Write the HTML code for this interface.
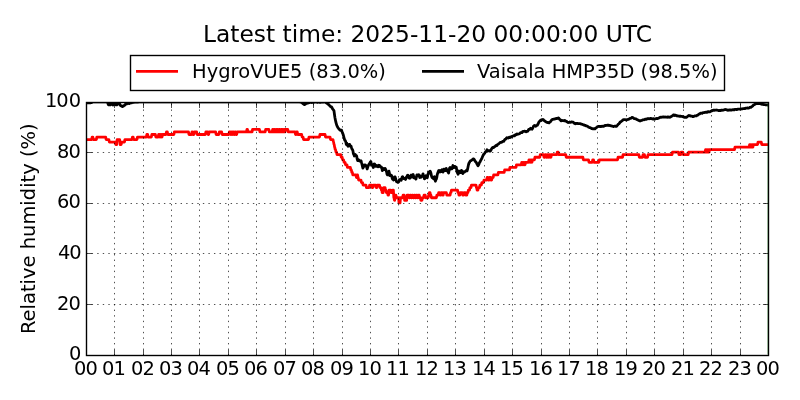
<!DOCTYPE html>
<html>
<head>
<meta charset="utf-8">
<title>Relative humidity</title>
<style>
html,body{margin:0;padding:0;background:#fff;overflow:hidden}
svg{display:block}
text{font-family:"DejaVu Sans","Liberation Sans",sans-serif;fill:#000}
</style>
</head>
<body>
<svg width="800" height="400" viewBox="0 0 800 400">
<rect width="800" height="400" fill="#fff"/>
<clipPath id="c"><rect x="86.00" y="102.00" width="682.00" height="252.60"/></clipPath>
<g clip-path="url(#c)" fill="none" stroke-width="2.78" stroke-linejoin="round" stroke-linecap="butt">
<path d="M85.70,139.55 L91.67,139.55 L92.14,137.02 L92.86,137.02 L93.33,139.55 L96.36,139.55 L96.83,137.02 L105.67,137.02 L106.14,139.55 L108.86,139.55 L109.33,142.08 L115.27,142.08 L115.73,144.61 L116.67,144.61 L117.14,139.55 L119.67,139.55 L120.14,144.61 L121.17,144.61 L121.64,142.08 L124.47,142.08 L124.94,139.55 L131.96,139.55 L132.44,137.02 L133.16,137.02 L133.64,139.55 L136.96,139.55 L137.44,137.02 L146.36,137.02 L146.84,134.49 L147.66,134.49 L148.14,137.02 L151.36,137.02 L151.84,134.49 L155.36,134.49 L155.84,137.02 L158.16,137.02 L158.64,134.49 L159.36,134.49 L159.84,137.02 L160.36,137.02 L160.84,134.49 L161.16,134.49 L161.64,137.02 L162.06,137.02 L162.54,134.49 L165.96,134.49 L166.44,131.96 L167.36,131.96 L167.84,134.49 L173.86,134.49 L174.34,131.96 L188.51,131.96 L188.99,134.49 L191.46,134.49 L191.94,131.96 L192.36,131.96 L192.84,134.49 L193.86,134.49 L194.34,131.96 L196.66,131.96 L197.14,134.49 L205.36,134.49 L205.84,131.96 L207.66,131.96 L208.14,134.49 L208.66,134.49 L209.14,131.96 L215.66,131.96 L216.14,134.49 L218.86,134.49 L219.34,131.96 L221.66,131.96 L222.14,134.49 L228.86,134.49 L229.34,131.96 L230.26,131.96 L230.74,134.49 L231.26,134.49 L231.74,131.96 L232.26,131.96 L232.74,134.49 L233.06,134.49 L233.54,131.96 L233.96,131.96 L234.44,134.49 L234.76,134.49 L235.24,131.96 L235.56,131.96 L236.04,134.49 L236.66,134.49 L237.14,131.96 L246.46,131.96 L246.94,129.43 L247.46,129.43 L247.94,131.96 L252.06,131.96 L252.54,129.43 L259.46,129.43 L259.94,131.96 L265.16,131.96 L265.63,129.43 L268.87,129.43 L269.34,131.96 L272.16,131.96 L272.63,129.43 L273.16,129.43 L273.63,131.96 L274.06,131.96 L274.54,129.43 L274.96,129.43 L275.44,131.96 L275.76,131.96 L276.24,129.43 L276.37,129.43 L276.84,131.96 L277.16,131.96 L277.63,129.43 L278.06,129.43 L278.54,131.96 L278.96,131.96 L279.44,129.43 L279.87,129.43 L280.34,131.96 L280.76,131.96 L281.24,129.43 L281.66,129.43 L282.13,131.96 L282.37,131.96 L282.84,129.43 L282.96,129.43 L283.44,131.96 L283.66,131.96 L284.13,129.43 L284.26,129.43 L284.74,131.96 L284.96,131.96 L285.44,129.43 L287.76,129.43 L288.24,131.96 L295.06,131.96 L295.54,134.49 L296.06,134.49 L296.54,131.96 L297.26,131.96 L297.74,134.49 L301.66,134.49 L302.13,137.02 L303.06,137.02 L303.54,139.55 L308.51,139.55 L308.99,137.02 L319.46,137.02 L319.94,134.49 L325.06,134.49 L325.54,137.02 L330.06,137.02 L330.54,139.55 L332.96,139.55 L333.44,142.08 L333.56,142.08 L334.04,144.61 L334.16,144.61 L334.63,147.14 L334.76,147.14 L335.24,149.67 L335.56,149.67 L336.04,152.20 L336.56,152.20 L337.04,154.73 L340.76,154.73 L341.24,157.26 L342.16,157.26 L342.63,159.79 L343.56,159.79 L344.04,162.32 L345.06,162.32 L345.54,164.85 L346.96,164.85 L347.44,167.38 L350.37,167.38 L350.84,169.91 L351.37,169.91 L351.84,172.44 L352.37,172.44 L352.84,174.97 L355.96,174.97 L356.44,177.50 L356.66,177.50 L357.13,174.97 L357.56,174.97 L358.04,177.50 L358.16,177.50 L358.63,180.03 L360.96,180.03 L361.44,182.56 L362.56,182.56 L363.04,185.09 L365.96,185.09 L366.44,187.62 L369.16,187.62 L369.63,185.09 L371.76,185.09 L372.24,187.62 L372.87,187.62 L373.34,185.09 L375.66,185.09 L376.13,187.62 L376.76,187.62 L377.24,185.09 L379.46,185.09 L379.94,187.62 L380.96,187.62 L381.44,190.15 L381.76,190.15 L382.24,192.68 L383.16,192.68 L383.63,187.62 L385.06,187.62 L385.54,190.15 L385.96,190.15 L386.44,192.68 L387.56,192.68 L388.04,195.21 L388.51,195.21 L388.99,190.15 L390.66,190.15 L391.13,192.68 L392.26,192.68 L392.74,190.15 L393.37,190.15 L393.84,197.74 L393.96,197.74 L394.44,200.27 L394.66,200.27 L395.13,195.21 L395.96,195.21 L396.44,197.74 L398.56,197.74 L399.04,202.80 L400.06,202.80 L400.54,197.74 L402.56,197.74 L403.04,195.21 L404.16,195.21 L404.63,200.27 L406.66,200.27 L407.13,195.21 L408.76,195.21 L409.24,197.74 L409.76,197.74 L410.24,195.21 L410.76,195.21 L411.24,197.74 L411.76,197.74 L412.24,195.21 L412.76,195.21 L413.24,197.74 L413.96,197.74 L414.44,195.21 L414.96,195.21 L415.44,197.74 L415.96,197.74 L416.44,195.21 L417.06,195.21 L417.54,197.74 L418.06,197.74 L418.54,195.21 L419.26,195.21 L419.74,197.74 L420.37,197.74 L420.84,200.27 L421.96,200.27 L422.44,197.74 L423.51,197.74 L423.99,195.21 L425.26,195.21 L425.74,197.74 L428.16,197.74 L428.63,195.21 L428.87,195.21 L429.34,192.68 L430.06,192.68 L430.54,195.21 L430.96,195.21 L431.44,197.74 L436.37,197.74 L436.84,195.21 L438.16,195.21 L438.63,192.68 L439.76,192.68 L440.24,195.21 L440.76,195.21 L441.24,192.68 L442.26,192.68 L442.74,195.21 L443.16,195.21 L443.63,192.68 L446.37,192.68 L446.84,195.21 L450.06,195.21 L450.54,192.68 L450.96,192.68 L451.44,190.15 L457.56,190.15 L458.04,192.68 L458.51,192.68 L458.99,195.21 L459.76,195.21 L460.24,192.68 L462.26,192.68 L462.74,195.21 L463.51,195.21 L463.99,192.68 L465.37,192.68 L465.84,195.21 L466.76,195.21 L467.24,192.68 L467.87,192.68 L468.34,190.15 L469.46,190.15 L469.94,187.62 L470.96,187.62 L471.44,185.09 L475.96,185.09 L476.44,187.62 L476.66,187.62 L477.13,190.15 L477.87,190.15 L478.34,187.62 L479.46,187.62 L479.94,185.09 L481.37,185.09 L481.84,182.56 L483.51,182.56 L483.99,180.03 L486.66,180.03 L487.13,177.50 L487.87,177.50 L488.34,180.03 L489.16,180.03 L489.63,177.50 L490.37,177.50 L490.84,180.03 L491.66,180.03 L492.13,177.50 L493.16,177.50 L493.63,174.97 L497.87,174.97 L498.34,172.44 L504.16,172.44 L504.63,169.91 L509.46,169.91 L509.94,167.38 L515.97,167.38 L516.44,164.85 L521.26,164.85 L521.74,162.32 L522.26,162.32 L522.74,164.85 L523.26,164.85 L523.74,162.32 L524.16,162.32 L524.63,164.85 L525.06,164.85 L525.53,162.32 L528.51,162.32 L528.99,159.79 L529.47,159.79 L529.94,162.32 L530.37,162.32 L530.84,159.79 L531.26,159.79 L531.74,162.32 L531.97,162.32 L532.44,159.79 L534.47,159.79 L534.94,157.26 L539.76,157.26 L540.24,154.73 L543.51,154.73 L543.99,157.26 L544.76,157.26 L545.24,154.73 L545.97,154.73 L546.44,157.26 L547.26,157.26 L547.74,154.73 L548.16,154.73 L548.63,157.26 L549.16,157.26 L549.63,154.73 L550.06,154.73 L550.53,157.26 L550.97,157.26 L551.44,154.73 L556.76,154.73 L557.24,152.20 L558.26,152.20 L558.74,154.73 L565.76,154.73 L566.24,157.26 L582.87,157.26 L583.34,159.79 L588.51,159.79 L588.99,162.32 L592.26,162.32 L592.74,159.79 L593.51,159.79 L593.99,162.32 L598.87,162.32 L599.34,159.79 L617.56,159.79 L618.03,157.26 L622.56,157.26 L623.03,154.73 L638.87,154.73 L639.34,157.26 L642.56,157.26 L643.03,154.73 L644.47,154.73 L644.94,157.26 L647.56,157.26 L648.03,154.73 L671.97,154.73 L672.44,152.20 L678.51,152.20 L678.99,154.73 L680.66,154.73 L681.13,152.20 L682.87,152.20 L683.34,154.73 L688.16,154.73 L688.63,152.20 L705.06,152.20 L705.53,149.67 L706.26,149.67 L706.74,152.20 L707.26,152.20 L707.74,149.67 L708.16,149.67 L708.63,152.20 L708.97,152.20 L709.44,149.67 L734.47,149.67 L734.94,147.14 L749.16,147.14 L749.63,144.61 L750.37,144.61 L750.84,147.14 L751.37,147.14 L751.84,144.61 L752.26,144.61 L752.74,147.14 L752.87,147.14 L753.34,144.61 L757.56,144.61 L758.03,142.08 L761.26,142.08 L761.74,144.61 L768.00,144.61" stroke="#f00"/>
<path d="M85.70,102.93 L86.17,102.82 L86.65,102.97 L87.12,102.87 L87.60,102.90 L88.07,102.96 L88.54,102.79 L89.02,102.89 L89.49,102.82 L89.96,102.85 L90.44,102.81 L90.91,102.73 L91.39,102.58 L91.86,102.48 L92.33,102.02 L92.81,101.90 L93.28,101.89 L93.75,101.89 L94.23,101.89 L94.70,101.89 L95.18,101.88 L95.65,101.88 L96.12,101.88 L96.60,101.87 L97.07,101.87 L97.54,101.87 L98.02,101.86 L98.49,101.86 L98.97,101.86 L99.44,101.85 L99.91,101.85 L100.39,101.85 L100.86,101.84 L101.34,101.84 L101.81,101.84 L102.28,101.83 L102.76,101.83 L103.23,101.83 L103.70,101.82 L104.18,101.82 L104.65,101.82 L105.13,101.81 L105.60,101.81 L106.07,101.81 L106.55,101.81 L107.02,101.72 L107.49,102.30 L107.97,103.64 L108.44,104.78 L108.92,104.48 L109.39,104.86 L109.86,104.56 L110.34,104.36 L110.81,104.86 L111.29,104.35 L111.76,103.96 L112.23,103.78 L112.71,104.45 L113.18,105.01 L113.65,104.62 L114.13,104.49 L114.60,103.89 L115.08,103.75 L115.55,104.45 L116.02,104.91 L116.50,104.64 L116.97,104.74 L117.44,104.44 L117.92,103.05 L118.39,102.34 L118.87,101.98 L119.34,102.33 L119.81,103.97 L120.29,105.38 L120.76,105.85 L121.23,105.70 L121.71,105.89 L122.18,106.60 L122.66,106.41 L123.13,106.18 L123.60,105.94 L124.08,105.49 L124.55,105.13 L125.03,105.08 L125.50,104.30 L125.97,103.41 L126.45,103.46 L126.92,103.84 L127.39,103.33 L127.87,103.08 L128.34,103.27 L128.82,103.50 L129.29,103.54 L129.76,103.44 L130.24,102.87 L130.71,102.56 L131.18,102.49 L131.66,102.82 L132.13,102.47 L132.61,102.38 L133.08,102.30 L133.55,102.27 L134.03,102.24 L134.50,102.21 L134.98,102.19 L135.45,102.16 L135.92,102.13 L136.40,102.11 L136.87,102.08 L137.34,102.05 L137.82,102.02 L138.29,102.00 L138.77,101.97 L139.24,101.94 L139.71,101.92 L140.19,101.90 L140.66,101.90 L141.13,101.90 L141.61,101.90 L142.08,101.90 L142.56,101.90 L143.03,101.90 L143.50,101.90 L143.98,101.90 L144.45,101.90 L144.93,101.90 L145.40,101.90 L145.87,101.90 L146.35,101.90 L146.82,101.90 L147.29,101.90 L147.77,101.90 L148.24,101.89 L148.72,101.89 L149.19,101.89 L149.66,101.89 L150.14,101.89 L150.61,101.89 L151.08,101.89 L151.56,101.89 L152.03,101.89 L152.51,101.89 L152.98,101.89 L153.45,101.89 L153.93,101.89 L154.40,101.89 L154.87,101.89 L155.35,101.89 L155.82,101.89 L156.30,101.89 L156.77,101.89 L157.24,101.89 L157.72,101.89 L158.19,101.89 L158.67,101.89 L159.14,101.89 L159.61,101.89 L160.09,101.89 L160.56,101.89 L161.03,101.89 L161.51,101.89 L161.98,101.89 L162.46,101.89 L162.93,101.89 L163.40,101.89 L163.88,101.89 L164.35,101.88 L164.82,101.88 L165.30,101.88 L165.77,101.88 L166.25,101.88 L166.72,101.88 L167.19,101.88 L167.67,101.88 L168.14,101.88 L168.62,101.88 L169.09,101.88 L169.56,101.88 L170.04,101.88 L170.51,101.88 L170.98,101.88 L171.46,101.88 L171.93,101.88 L172.41,101.88 L172.88,101.88 L173.35,101.88 L173.83,101.88 L174.30,101.88 L174.77,101.88 L175.25,101.88 L175.72,101.88 L176.20,101.88 L176.67,101.88 L177.14,101.88 L177.62,101.88 L178.09,101.88 L178.56,101.88 L179.04,101.88 L179.51,101.88 L179.99,101.88 L180.46,101.87 L180.93,101.87 L181.41,101.87 L181.88,101.87 L182.36,101.87 L182.83,101.87 L183.30,101.87 L183.78,101.87 L184.25,101.87 L184.72,101.87 L185.20,101.87 L185.67,101.87 L186.15,101.87 L186.62,101.87 L187.09,101.87 L187.57,101.87 L188.04,101.87 L188.51,101.87 L188.99,101.87 L189.46,101.87 L189.94,101.87 L190.41,101.87 L190.88,101.87 L191.36,101.87 L191.83,101.87 L192.31,101.87 L192.78,101.87 L193.25,101.87 L193.73,101.87 L194.20,101.87 L194.67,101.87 L195.15,101.87 L195.62,101.87 L196.10,101.86 L196.57,101.86 L197.04,101.86 L197.52,101.86 L197.99,101.86 L198.46,101.86 L198.94,101.86 L199.41,101.86 L199.89,101.86 L200.36,101.86 L200.83,101.86 L201.31,101.86 L201.78,101.86 L202.25,101.86 L202.73,101.86 L203.20,101.86 L203.68,101.86 L204.15,101.86 L204.62,101.86 L205.10,101.86 L205.57,101.86 L206.05,101.86 L206.52,101.86 L206.99,101.86 L207.47,101.86 L207.94,101.86 L208.41,101.86 L208.89,101.86 L209.36,101.86 L209.84,101.86 L210.31,101.86 L210.78,101.86 L211.26,101.86 L211.73,101.86 L212.20,101.85 L212.68,101.85 L213.15,101.85 L213.63,101.85 L214.10,101.85 L214.57,101.85 L215.05,101.85 L215.52,101.85 L216.00,101.85 L216.47,101.85 L216.94,101.85 L217.42,101.85 L217.89,101.85 L218.36,101.85 L218.84,101.85 L219.31,101.85 L219.79,101.85 L220.26,101.85 L220.73,101.85 L221.21,101.85 L221.68,101.85 L222.15,101.85 L222.63,101.85 L223.10,101.85 L223.58,101.85 L224.05,101.85 L224.52,101.85 L225.00,101.85 L225.47,101.85 L225.94,101.85 L226.42,101.85 L226.89,101.85 L227.37,101.85 L227.84,101.85 L228.31,101.84 L228.79,101.84 L229.26,101.84 L229.74,101.84 L230.21,101.84 L230.68,101.84 L231.16,101.84 L231.63,101.84 L232.10,101.84 L232.58,101.84 L233.05,101.84 L233.53,101.84 L234.00,101.84 L234.47,101.84 L234.95,101.84 L235.42,101.84 L235.89,101.84 L236.37,101.84 L236.84,101.84 L237.32,101.84 L237.79,101.84 L238.26,101.84 L238.74,101.84 L239.21,101.84 L239.69,101.84 L240.16,101.84 L240.63,101.84 L241.11,101.84 L241.58,101.84 L242.05,101.84 L242.53,101.84 L243.00,101.84 L243.48,101.84 L243.95,101.84 L244.42,101.83 L244.90,101.83 L245.37,101.83 L245.84,101.83 L246.32,101.83 L246.79,101.83 L247.27,101.83 L247.74,101.83 L248.21,101.83 L248.69,101.83 L249.16,101.83 L249.63,101.83 L250.11,101.83 L250.58,101.83 L251.06,101.83 L251.53,101.83 L252.00,101.83 L252.48,101.83 L252.95,101.83 L253.43,101.83 L253.90,101.83 L254.37,101.83 L254.85,101.83 L255.32,101.83 L255.79,101.83 L256.27,101.83 L256.74,101.83 L257.22,101.83 L257.69,101.83 L258.16,101.83 L258.64,101.83 L259.11,101.83 L259.58,101.83 L260.06,101.82 L260.53,101.82 L261.01,101.82 L261.48,101.82 L261.95,101.82 L262.43,101.82 L262.90,101.82 L263.38,101.82 L263.85,101.82 L264.32,101.82 L264.80,101.82 L265.27,101.82 L265.74,101.82 L266.22,101.82 L266.69,101.82 L267.17,101.82 L267.64,101.82 L268.11,101.82 L268.59,101.82 L269.06,101.82 L269.53,101.82 L270.01,101.82 L270.48,101.82 L270.96,101.82 L271.43,101.82 L271.90,101.82 L272.38,101.82 L272.85,101.82 L273.32,101.82 L273.80,101.82 L274.27,101.82 L274.75,101.82 L275.22,101.82 L275.69,101.82 L276.17,101.81 L276.64,101.81 L277.12,101.81 L277.59,101.81 L278.06,101.81 L278.54,101.81 L279.01,101.81 L279.48,101.81 L279.96,101.81 L280.43,101.81 L280.91,101.81 L281.38,101.81 L281.85,101.81 L282.33,101.81 L282.80,101.81 L283.27,101.81 L283.75,101.81 L284.22,101.81 L284.70,101.81 L285.17,101.81 L285.64,101.81 L286.12,101.81 L286.59,101.81 L287.07,101.81 L287.54,101.81 L288.01,101.81 L288.49,101.81 L288.96,101.81 L289.43,101.81 L289.91,101.81 L290.38,101.81 L290.86,101.81 L291.33,101.81 L291.80,101.81 L292.28,101.80 L292.75,101.80 L293.22,101.80 L293.70,101.80 L294.17,101.80 L294.65,101.80 L295.12,101.80 L295.59,101.80 L296.07,101.80 L296.54,101.80 L297.01,101.80 L297.49,101.80 L297.96,101.80 L298.44,101.80 L298.91,101.80 L299.38,101.80 L299.86,101.80 L300.33,102.10 L300.81,102.02 L301.28,102.16 L301.75,102.42 L302.23,102.86 L302.70,103.41 L303.17,103.88 L303.65,104.19 L304.12,104.49 L304.60,104.63 L305.07,104.36 L305.54,103.96 L306.02,103.54 L306.49,103.34 L306.96,103.26 L307.44,103.03 L307.91,103.06 L308.39,102.98 L308.86,102.76 L309.33,102.62 L309.81,102.47 L310.28,102.35 L310.76,102.13 L311.23,102.33 L311.70,102.53 L312.18,102.44 L312.65,102.40 L313.12,102.45 L313.60,102.19 L314.07,102.24 L314.55,102.16 L315.02,101.90 L315.49,101.87 L315.97,102.03 L316.44,101.97 L316.91,102.06 L317.39,102.32 L317.86,102.21 L318.34,102.07 L318.81,102.10 L319.28,102.23 L319.76,102.34 L320.23,102.30 L320.70,102.25 L321.18,102.01 L321.65,101.87 L322.13,101.91 L322.60,102.10 L323.07,102.03 L323.55,102.00 L324.02,101.83 L324.50,101.83 L324.97,102.04 L325.44,102.37 L325.92,102.60 L326.39,102.99 L326.86,103.17 L327.34,103.55 L327.81,104.00 L328.29,104.37 L328.76,104.58 L329.23,105.27 L329.71,105.57 L330.18,106.14 L330.65,106.79 L331.13,106.67 L331.60,106.97 L332.08,107.79 L332.55,108.83 L333.02,109.43 L333.50,109.98 L333.97,110.71 L334.44,114.25 L334.92,117.44 L335.39,119.90 L335.87,122.17 L336.34,123.79 L336.81,125.43 L337.29,126.40 L337.76,127.36 L338.24,128.00 L338.71,128.67 L339.18,129.27 L339.66,129.52 L340.13,130.16 L340.60,130.34 L341.08,130.09 L341.55,130.18 L342.03,131.60 L342.50,132.91 L342.97,133.97 L343.45,135.47 L343.92,137.34 L344.39,139.22 L344.87,140.48 L345.34,140.57 L345.82,142.08 L346.29,144.60 L346.76,143.13 L347.24,144.44 L347.71,145.74 L348.19,146.26 L348.66,145.29 L349.13,144.36 L349.61,144.47 L350.08,146.11 L350.55,145.99 L351.03,146.16 L351.50,147.67 L351.98,148.99 L352.45,149.64 L352.92,150.77 L353.40,153.84 L353.87,154.58 L354.34,155.96 L354.82,155.53 L355.29,154.57 L355.77,155.56 L356.24,155.39 L356.71,156.24 L357.19,159.17 L357.66,160.70 L358.13,160.40 L358.61,159.79 L359.08,160.28 L359.56,161.13 L360.03,160.76 L360.50,161.17 L360.98,160.66 L361.45,162.47 L361.93,164.14 L362.40,166.18 L362.87,168.16 L363.35,167.29 L363.82,165.04 L364.29,166.14 L364.77,164.82 L365.24,164.78 L365.72,165.56 L366.19,165.68 L366.66,167.19 L367.14,169.02 L367.61,167.49 L368.08,166.28 L368.56,165.04 L369.03,164.17 L369.51,163.86 L369.98,162.60 L370.45,161.83 L370.93,161.69 L371.40,164.48 L371.88,165.38 L372.35,164.57 L372.82,166.11 L373.30,167.50 L373.77,165.99 L374.24,163.94 L374.72,164.12 L375.19,164.91 L375.67,166.41 L376.14,166.37 L376.61,165.75 L377.09,165.52 L377.56,165.86 L378.03,166.77 L378.51,166.41 L378.98,165.27 L379.46,165.36 L379.93,166.39 L380.40,166.90 L380.88,167.18 L381.35,166.96 L381.82,167.67 L382.30,170.63 L382.77,169.55 L383.25,168.56 L383.72,169.15 L384.19,169.57 L384.67,168.49 L385.14,168.32 L385.62,169.26 L386.09,170.53 L386.56,171.84 L387.04,174.18 L387.51,174.93 L387.98,174.90 L388.46,172.65 L388.93,171.18 L389.41,173.19 L389.88,175.61 L390.35,175.53 L390.83,175.82 L391.30,175.14 L391.77,175.90 L392.25,178.58 L392.72,179.45 L393.20,179.51 L393.67,180.05 L394.14,178.39 L394.62,176.80 L395.09,176.89 L395.57,178.48 L396.04,180.09 L396.51,181.59 L396.99,181.94 L397.46,181.79 L397.93,182.45 L398.41,182.28 L398.88,181.59 L399.36,179.73 L399.83,180.27 L400.30,179.52 L400.78,179.99 L401.25,180.19 L401.72,178.41 L402.20,176.96 L402.67,176.66 L403.15,177.65 L403.62,178.67 L404.09,178.56 L404.57,178.48 L405.04,179.04 L405.51,179.43 L405.99,178.36 L406.46,176.90 L406.94,177.02 L407.41,175.43 L407.88,175.10 L408.36,176.19 L408.83,177.98 L409.31,178.13 L409.78,178.30 L410.25,177.50 L410.73,175.77 L411.20,175.07 L411.67,176.82 L412.15,177.15 L412.62,175.49 L413.10,174.51 L413.57,175.88 L414.04,177.84 L414.52,178.02 L414.99,177.66 L415.46,178.05 L415.94,179.07 L416.41,177.12 L416.89,174.79 L417.36,174.81 L417.83,175.14 L418.31,175.56 L418.78,174.78 L419.26,176.02 L419.73,177.46 L420.20,177.16 L420.68,176.04 L421.15,177.25 L421.62,176.45 L422.10,176.27 L422.57,175.19 L423.05,173.81 L423.52,176.25 L423.99,176.90 L424.47,178.82 L424.94,178.54 L425.41,176.50 L425.89,175.71 L426.36,176.01 L426.84,176.75 L427.31,177.70 L427.78,175.21 L428.26,173.33 L428.73,172.22 L429.20,172.96 L429.68,171.80 L430.15,171.09 L430.63,172.05 L431.10,173.94 L431.57,176.30 L432.05,177.52 L432.52,177.39 L433.00,178.16 L433.47,178.79 L433.94,177.29 L434.42,176.63 L434.89,179.42 L435.36,181.24 L435.84,179.82 L436.31,179.13 L436.79,177.30 L437.26,174.54 L437.73,173.01 L438.21,171.91 L438.68,170.57 L439.15,170.47 L439.63,170.62 L440.10,171.99 L440.58,170.72 L441.05,171.47 L441.52,170.86 L442.00,169.80 L442.47,171.33 L442.95,172.14 L443.42,170.99 L443.89,169.12 L444.37,169.31 L444.84,169.46 L445.31,170.45 L445.79,169.08 L446.26,168.36 L446.74,170.74 L447.21,169.88 L447.68,169.89 L448.16,172.30 L448.63,173.12 L449.10,170.24 L449.58,168.11 L450.05,167.42 L450.53,169.12 L451.00,168.10 L451.47,167.86 L451.95,168.82 L452.42,167.16 L452.89,165.54 L453.37,166.96 L453.84,167.53 L454.32,166.37 L454.79,167.45 L455.26,167.65 L455.74,167.26 L456.21,167.11 L456.69,169.66 L457.16,172.47 L457.63,172.92 L458.11,174.21 L458.58,172.87 L459.05,171.03 L459.53,171.39 L460.00,172.48 L460.48,172.67 L460.95,171.39 L461.42,170.33 L461.90,170.95 L462.37,171.85 L462.84,173.57 L463.32,172.01 L463.79,171.77 L464.27,172.15 L464.74,171.68 L465.21,171.53 L465.69,171.33 L466.16,170.59 L466.64,170.40 L467.11,170.84 L467.58,169.17 L468.06,166.83 L468.53,164.54 L469.00,163.04 L469.48,162.40 L469.95,161.46 L470.43,160.81 L470.90,160.66 L471.37,160.22 L471.85,160.08 L472.32,159.81 L472.79,159.31 L473.27,158.89 L473.74,158.94 L474.22,159.43 L474.69,160.32 L475.16,161.26 L475.64,161.79 L476.11,162.24 L476.58,163.03 L477.06,164.04 L477.53,164.95 L478.01,165.77 L478.48,165.02 L478.95,164.06 L479.43,162.67 L479.90,162.08 L480.38,161.16 L480.85,160.22 L481.32,159.29 L481.80,158.53 L482.27,157.35 L482.74,156.16 L483.22,155.23 L483.69,154.21 L484.17,153.90 L484.64,153.41 L485.11,152.42 L485.59,151.71 L486.06,151.58 L486.53,150.88 L487.01,149.80 L487.48,150.26 L487.96,150.60 L488.43,150.94 L488.90,150.58 L489.38,150.57 L489.85,151.19 L490.33,151.05 L490.80,150.57 L491.27,149.37 L491.75,148.56 L492.22,148.01 L492.69,147.42 L493.17,147.60 L493.64,147.41 L494.12,147.18 L494.59,146.63 L495.06,146.43 L495.54,146.07 L496.01,145.40 L496.48,145.41 L496.96,145.52 L497.43,144.64 L497.91,144.27 L498.38,144.22 L498.85,143.61 L499.33,143.20 L499.80,142.78 L500.27,142.46 L500.75,142.33 L501.22,142.43 L501.70,142.44 L502.17,141.92 L502.64,141.33 L503.12,141.27 L503.59,141.44 L504.07,140.67 L504.54,139.94 L505.01,139.36 L505.49,139.19 L505.96,138.74 L506.43,138.08 L506.91,137.73 L507.38,137.87 L507.86,138.02 L508.33,138.05 L508.80,137.55 L509.28,137.21 L509.75,137.54 L510.22,137.42 L510.70,136.93 L511.17,136.65 L511.65,136.93 L512.12,136.53 L512.59,136.16 L513.07,135.89 L513.54,135.59 L514.02,135.73 L514.49,135.89 L514.96,135.29 L515.44,134.65 L515.91,134.80 L516.38,134.49 L516.86,133.89 L517.33,134.31 L517.81,134.22 L518.28,134.12 L518.75,133.84 L519.23,133.84 L519.70,133.60 L520.17,132.99 L520.65,132.56 L521.12,132.70 L521.60,132.69 L522.07,132.59 L522.54,131.73 L523.02,131.38 L523.49,131.46 L523.96,131.44 L524.44,131.23 L524.91,131.15 L525.39,131.40 L525.86,131.84 L526.33,131.42 L526.81,131.29 L527.28,131.45 L527.76,131.27 L528.23,130.28 L528.70,129.35 L529.18,129.47 L529.65,129.45 L530.12,128.76 L530.60,128.29 L531.07,128.87 L531.55,129.02 L532.02,129.22 L532.49,128.44 L532.97,127.62 L533.44,126.38 L533.91,125.70 L534.39,125.50 L534.86,125.42 L535.34,125.94 L535.81,126.24 L536.28,125.80 L536.76,125.57 L537.23,125.35 L537.71,124.67 L538.18,123.76 L538.65,122.62 L539.13,121.71 L539.60,121.28 L540.07,120.90 L540.55,120.17 L541.02,119.97 L541.50,120.23 L541.97,119.62 L542.44,119.71 L542.92,119.41 L543.39,119.70 L543.86,120.31 L544.34,120.74 L544.81,120.93 L545.29,121.31 L545.76,121.81 L546.23,122.07 L546.71,122.29 L547.18,122.42 L547.65,122.51 L548.13,122.47 L548.60,122.77 L549.08,122.95 L549.55,122.29 L550.02,121.95 L550.50,121.62 L550.97,120.96 L551.45,120.23 L551.92,119.77 L552.39,119.50 L552.87,119.27 L553.34,119.29 L553.81,119.10 L554.29,119.04 L554.76,119.05 L555.24,118.72 L555.71,118.72 L556.18,118.51 L556.66,118.51 L557.13,118.59 L557.60,118.35 L558.08,117.92 L558.55,117.92 L559.03,118.47 L559.50,119.17 L559.97,119.44 L560.45,120.00 L560.92,120.76 L561.40,120.76 L561.87,120.72 L562.34,120.45 L562.82,120.63 L563.29,120.65 L563.76,120.71 L564.24,120.84 L564.71,120.47 L565.19,120.65 L565.66,121.23 L566.13,121.19 L566.61,121.37 L567.08,121.96 L567.55,122.12 L568.03,122.58 L568.50,122.46 L568.98,122.46 L569.45,122.25 L569.92,122.15 L570.40,122.40 L570.87,122.14 L571.34,121.88 L571.82,121.95 L572.29,122.06 L572.77,122.11 L573.24,122.33 L573.71,122.60 L574.19,123.19 L574.66,123.55 L575.14,123.74 L575.61,123.47 L576.08,123.53 L576.56,123.41 L577.03,123.39 L577.50,123.57 L577.98,123.48 L578.45,123.63 L578.93,123.64 L579.40,123.55 L579.87,123.70 L580.35,123.56 L580.82,123.92 L581.29,124.20 L581.77,124.15 L582.24,124.45 L582.72,124.50 L583.19,124.85 L583.66,125.06 L584.14,125.01 L584.61,125.31 L585.09,125.46 L585.56,125.42 L586.03,125.78 L586.51,125.80 L586.98,126.13 L587.45,126.28 L587.93,126.46 L588.40,127.04 L588.88,127.27 L589.35,127.50 L589.82,127.68 L590.30,127.74 L590.77,127.97 L591.24,128.22 L591.72,128.53 L592.19,128.65 L592.67,128.69 L593.14,128.96 L593.61,128.78 L594.09,128.64 L594.56,128.93 L595.03,128.80 L595.51,128.19 L595.98,127.96 L596.46,127.56 L596.93,127.20 L597.40,126.82 L597.88,126.55 L598.35,126.57 L598.83,126.39 L599.30,126.47 L599.77,126.53 L600.25,126.32 L600.72,126.59 L601.19,126.52 L601.67,126.26 L602.14,126.17 L602.62,126.28 L603.09,126.44 L603.56,126.36 L604.04,126.03 L604.51,125.73 L604.98,125.45 L605.46,125.55 L605.93,125.59 L606.41,125.35 L606.88,125.30 L607.35,125.18 L607.83,125.23 L608.30,125.34 L608.78,125.19 L609.25,125.49 L609.72,125.43 L610.20,125.53 L610.67,125.77 L611.14,125.79 L611.62,125.80 L612.09,126.22 L612.57,126.23 L613.04,126.37 L613.51,126.66 L613.99,126.35 L614.46,126.07 L614.93,126.22 L615.41,126.24 L615.88,126.21 L616.36,126.27 L616.83,125.97 L617.30,125.43 L617.78,124.89 L618.25,124.18 L618.72,123.91 L619.20,123.54 L619.67,122.89 L620.15,122.02 L620.62,121.83 L621.09,121.68 L621.57,121.16 L622.04,120.84 L622.52,120.42 L622.99,119.87 L623.46,119.68 L623.94,119.66 L624.41,119.56 L624.88,119.59 L625.36,119.83 L625.83,119.89 L626.31,119.89 L626.78,119.83 L627.25,119.53 L627.73,119.48 L628.20,119.39 L628.67,119.28 L629.15,119.03 L629.62,118.59 L630.10,118.45 L630.57,118.48 L631.04,117.99 L631.52,117.83 L631.99,117.40 L632.47,117.41 L632.94,117.65 L633.41,118.06 L633.89,118.49 L634.36,118.64 L634.83,118.56 L635.31,118.86 L635.78,118.96 L636.26,118.94 L636.73,119.44 L637.20,119.73 L637.68,119.89 L638.15,120.11 L638.62,120.46 L639.10,120.53 L639.57,120.76 L640.05,120.99 L640.52,120.89 L640.99,120.62 L641.47,120.50 L641.94,120.40 L642.41,120.10 L642.89,119.85 L643.36,119.89 L643.84,119.64 L644.31,119.74 L644.78,119.52 L645.26,119.12 L645.73,119.02 L646.21,119.34 L646.68,119.23 L647.15,118.85 L647.63,118.64 L648.10,118.52 L648.57,118.73 L649.05,118.81 L649.52,118.73 L650.00,118.67 L650.47,118.41 L650.94,118.49 L651.42,118.58 L651.89,118.76 L652.36,118.95 L652.84,119.02 L653.31,118.69 L653.79,118.85 L654.26,119.16 L654.73,119.23 L655.21,118.89 L655.68,118.71 L656.16,118.67 L656.63,118.43 L657.10,118.60 L657.58,118.66 L658.05,118.39 L658.52,118.25 L659.00,118.04 L659.47,117.64 L659.95,117.27 L660.42,117.15 L660.89,117.41 L661.37,117.31 L661.84,117.14 L662.31,117.18 L662.79,116.97 L663.26,116.91 L663.74,116.95 L664.21,117.11 L664.68,117.04 L665.16,116.88 L665.63,117.19 L666.10,117.19 L666.58,117.23 L667.05,117.25 L667.53,116.92 L668.00,116.93 L668.47,117.08 L668.95,117.27 L669.42,117.19 L669.90,117.24 L670.37,117.08 L670.84,116.62 L671.32,116.56 L671.79,116.14 L672.26,115.98 L672.74,115.64 L673.21,115.10 L673.69,114.88 L674.16,115.07 L674.63,115.46 L675.11,115.19 L675.58,115.24 L676.05,115.51 L676.53,115.77 L677.00,115.70 L677.48,115.77 L677.95,115.91 L678.42,116.16 L678.90,116.10 L679.37,116.30 L679.85,116.27 L680.32,116.09 L680.79,116.35 L681.27,116.47 L681.74,116.28 L682.21,116.50 L682.69,116.52 L683.16,116.79 L683.64,117.09 L684.11,117.22 L684.58,117.30 L685.06,117.24 L685.53,117.29 L686.00,117.42 L686.48,117.33 L686.95,116.79 L687.43,116.60 L687.90,116.13 L688.37,115.63 L688.85,115.40 L689.32,115.69 L689.79,115.82 L690.27,115.76 L690.74,116.08 L691.22,116.05 L691.69,116.07 L692.16,116.29 L692.64,116.54 L693.11,116.67 L693.59,116.50 L694.06,116.21 L694.53,115.99 L695.01,115.78 L695.48,115.93 L695.95,115.94 L696.43,115.81 L696.90,115.45 L697.38,115.12 L697.85,115.04 L698.32,114.74 L698.80,114.15 L699.27,113.85 L699.74,113.84 L700.22,113.45 L700.69,113.14 L701.17,113.08 L701.64,113.21 L702.11,113.30 L702.59,112.93 L703.06,112.62 L703.54,112.57 L704.01,112.54 L704.48,112.56 L704.96,112.36 L705.43,112.23 L705.90,112.12 L706.38,112.35 L706.85,112.38 L707.33,111.92 L707.80,112.03 L708.27,111.80 L708.75,111.57 L709.22,111.85 L709.69,111.85 L710.17,111.65 L710.64,111.35 L711.12,111.00 L711.59,110.99 L712.06,110.74 L712.54,110.48 L713.01,110.45 L713.48,110.20 L713.96,110.12 L714.43,110.27 L714.91,110.21 L715.38,110.10 L715.85,110.15 L716.33,110.16 L716.80,110.00 L717.28,110.16 L717.75,110.26 L718.22,110.41 L718.70,110.64 L719.17,110.51 L719.64,110.48 L720.12,110.62 L720.59,110.42 L721.07,110.14 L721.54,110.21 L722.01,110.34 L722.49,110.25 L722.96,110.09 L723.43,110.04 L723.91,109.91 L724.38,109.75 L724.86,109.55 L725.33,109.48 L725.80,109.69 L726.28,109.65 L726.75,109.75 L727.23,110.13 L727.70,110.32 L728.17,110.31 L728.65,110.06 L729.12,109.97 L729.59,110.00 L730.07,110.04 L730.54,109.94 L731.02,109.95 L731.49,110.11 L731.96,109.79 L732.44,109.73 L732.91,109.89 L733.38,109.70 L733.86,109.57 L734.33,109.79 L734.81,109.45 L735.28,109.35 L735.75,109.28 L736.23,109.40 L736.70,109.62 L737.17,109.43 L737.65,109.05 L738.12,109.10 L738.60,109.18 L739.07,109.21 L739.54,109.12 L740.02,109.07 L740.49,109.15 L740.97,109.02 L741.44,108.82 L741.91,108.99 L742.39,108.77 L742.86,108.71 L743.33,108.67 L743.81,108.71 L744.28,108.48 L744.76,108.63 L745.23,108.55 L745.70,108.16 L746.18,108.11 L746.65,108.18 L747.12,107.98 L747.60,107.99 L748.07,108.05 L748.55,108.12 L749.02,107.98 L749.49,107.60 L749.97,107.31 L750.44,107.31 L750.92,107.32 L751.39,106.96 L751.86,106.45 L752.34,106.27 L752.81,105.87 L753.28,105.26 L753.76,104.77 L754.23,104.65 L754.71,104.48 L755.18,104.11 L755.65,103.85 L756.13,103.72 L756.60,103.46 L757.07,103.58 L757.55,103.40 L758.02,103.23 L758.50,103.52 L758.97,103.71 L759.44,103.67 L759.92,103.61 L760.39,103.80 L760.86,103.80 L761.34,104.13 L761.81,104.25 L762.29,104.46 L762.76,104.47 L763.23,104.47 L763.71,104.57 L764.18,104.71 L764.66,104.70 L765.13,104.58 L765.60,104.91 L766.08,104.97 L766.55,104.87 L767.02,104.93 L767.50,105.08 L767.97,105.16" stroke="#000"/>
<path d="M768.00,354.60 V102.10" stroke="#008000" stroke-width="0.55"/>
</g>
<g stroke="#000" stroke-width="0.69" stroke-dasharray="1.39 4.17" fill="none"><path d="M114.5,355.5 V102.5"/><path d="M143.5,355.5 V102.5"/><path d="M171.5,355.5 V102.5"/><path d="M199.5,355.5 V102.5"/><path d="M228.5,355.5 V102.5"/><path d="M256.5,355.5 V102.5"/><path d="M285.5,355.5 V102.5"/><path d="M313.5,355.5 V102.5"/><path d="M342.5,355.5 V102.5"/><path d="M370.5,355.5 V102.5"/><path d="M398.5,355.5 V102.5"/><path d="M427.5,355.5 V102.5"/><path d="M455.5,355.5 V102.5"/><path d="M484.5,355.5 V102.5"/><path d="M512.5,355.5 V102.5"/><path d="M541.5,355.5 V102.5"/><path d="M569.5,355.5 V102.5"/><path d="M597.5,355.5 V102.5"/><path d="M626.5,355.5 V102.5"/><path d="M654.5,355.5 V102.5"/><path d="M683.5,355.5 V102.5"/><path d="M711.5,355.5 V102.5"/><path d="M740.5,355.5 V102.5"/><path d="M86.1,304.5 H768.5"/><path d="M86.1,253.5 H768.5"/><path d="M86.1,203.5 H768.5"/><path d="M86.1,152.5 H768.5"/></g>
<g stroke="#000" stroke-width="0.69" fill="none"><path d="M86.5,355.5 v-5.56"/><path d="M86.5,102.5 v5.56"/><path d="M114.5,355.5 v-5.56"/><path d="M114.5,102.5 v5.56"/><path d="M143.5,355.5 v-5.56"/><path d="M143.5,102.5 v5.56"/><path d="M171.5,355.5 v-5.56"/><path d="M171.5,102.5 v5.56"/><path d="M199.5,355.5 v-5.56"/><path d="M199.5,102.5 v5.56"/><path d="M228.5,355.5 v-5.56"/><path d="M228.5,102.5 v5.56"/><path d="M256.5,355.5 v-5.56"/><path d="M256.5,102.5 v5.56"/><path d="M285.5,355.5 v-5.56"/><path d="M285.5,102.5 v5.56"/><path d="M313.5,355.5 v-5.56"/><path d="M313.5,102.5 v5.56"/><path d="M342.5,355.5 v-5.56"/><path d="M342.5,102.5 v5.56"/><path d="M370.5,355.5 v-5.56"/><path d="M370.5,102.5 v5.56"/><path d="M398.5,355.5 v-5.56"/><path d="M398.5,102.5 v5.56"/><path d="M427.5,355.5 v-5.56"/><path d="M427.5,102.5 v5.56"/><path d="M455.5,355.5 v-5.56"/><path d="M455.5,102.5 v5.56"/><path d="M484.5,355.5 v-5.56"/><path d="M484.5,102.5 v5.56"/><path d="M512.5,355.5 v-5.56"/><path d="M512.5,102.5 v5.56"/><path d="M541.5,355.5 v-5.56"/><path d="M541.5,102.5 v5.56"/><path d="M569.5,355.5 v-5.56"/><path d="M569.5,102.5 v5.56"/><path d="M597.5,355.5 v-5.56"/><path d="M597.5,102.5 v5.56"/><path d="M626.5,355.5 v-5.56"/><path d="M626.5,102.5 v5.56"/><path d="M654.5,355.5 v-5.56"/><path d="M654.5,102.5 v5.56"/><path d="M683.5,355.5 v-5.56"/><path d="M683.5,102.5 v5.56"/><path d="M711.5,355.5 v-5.56"/><path d="M711.5,102.5 v5.56"/><path d="M740.5,355.5 v-5.56"/><path d="M740.5,102.5 v5.56"/><path d="M768.5,355.5 v-5.56"/><path d="M768.5,102.5 v5.56"/><path d="M86.5,355.5 h5.56"/><path d="M768.5,355.5 h-5.56"/><path d="M86.5,304.5 h5.56"/><path d="M768.5,304.5 h-5.56"/><path d="M86.5,253.5 h5.56"/><path d="M768.5,253.5 h-5.56"/><path d="M86.5,203.5 h5.56"/><path d="M768.5,203.5 h-5.56"/><path d="M86.5,152.5 h5.56"/><path d="M768.5,152.5 h-5.56"/><path d="M86.5,102.5 h5.56"/><path d="M768.5,102.5 h-5.56"/></g>
<rect x="86.5" y="102.5" width="682.0" height="253.0" fill="none" stroke="#000" stroke-width="1.39"/>
<text x="74.00 85.50" y="374.50" font-size="19.44">00</text>
<text x="102.00 113.50" y="374.50" font-size="19.44">01</text>
<text x="131.00 142.50" y="374.50" font-size="19.44">02</text>
<text x="159.00 170.50" y="374.50" font-size="19.44">03</text>
<text x="187.00 198.50" y="374.50" font-size="19.44">04</text>
<text x="216.00 227.50" y="374.50" font-size="19.44">05</text>
<text x="244.00 255.50" y="374.50" font-size="19.44">06</text>
<text x="273.00 284.50" y="374.50" font-size="19.44">07</text>
<text x="301.00 312.50" y="374.50" font-size="19.44">08</text>
<text x="330.00 341.50" y="374.50" font-size="19.44">09</text>
<text x="358.00 369.50" y="374.50" font-size="19.44">10</text>
<text x="386.00 397.50" y="374.50" font-size="19.44">11</text>
<text x="415.00 426.50" y="374.50" font-size="19.44">12</text>
<text x="443.00 454.50" y="374.50" font-size="19.44">13</text>
<text x="472.00 483.50" y="374.50" font-size="19.44">14</text>
<text x="500.00 511.50" y="374.50" font-size="19.44">15</text>
<text x="529.00 540.50" y="374.50" font-size="19.44">16</text>
<text x="557.00 568.50" y="374.50" font-size="19.44">17</text>
<text x="585.00 596.50" y="374.50" font-size="19.44">18</text>
<text x="614.00 625.50" y="374.50" font-size="19.44">19</text>
<text x="642.00 653.50" y="374.50" font-size="19.44">20</text>
<text x="671.00 682.50" y="374.50" font-size="19.44">21</text>
<text x="699.00 710.50" y="374.50" font-size="19.44">22</text>
<text x="728.00 739.50" y="374.50" font-size="19.44">23</text>
<text x="756.00 767.50" y="374.50" font-size="19.44">00</text>
<text x="69.00" y="359.70" font-size="19.44">0</text>
<text x="57.00 68.40" y="309.70" font-size="19.44">20</text>
<text x="58.00 69.20" y="258.70" font-size="19.44">40</text>
<text x="57.00 68.40" y="207.70" font-size="19.44">60</text>
<text x="57.00 68.40" y="157.60" font-size="19.44">80</text>
<text x="45.00 56.20 68.70" y="106.70" font-size="19.44">100</text>
<text transform="translate(34.7,334.1) rotate(-90)" font-size="19.44" textLength="210.8" lengthAdjust="spacing">Relative humidity (%)</text>
<text x="427.5" y="41.5" font-size="23.33" text-anchor="middle">Latest time: 2025-11-20 00:00:00 UTC</text>
<rect x="130.5" y="55.5" width="594" height="35" fill="#fff" stroke="#000" stroke-width="1.39"/>
<path d="M136,71.4 H178" stroke="#f00" stroke-width="2.78" fill="none"/>
<text x="192" y="78.3" font-size="19.44" textLength="193.9" lengthAdjust="spacing">HygroVUE5 (83.0%)</text>
<path d="M422,71.4 H464" stroke="#000" stroke-width="2.78" fill="none"/>
<text x="477" y="78.3" font-size="19.44">Vaisala HMP35D (98.5%)</text>
</svg>
</body>
</html>
